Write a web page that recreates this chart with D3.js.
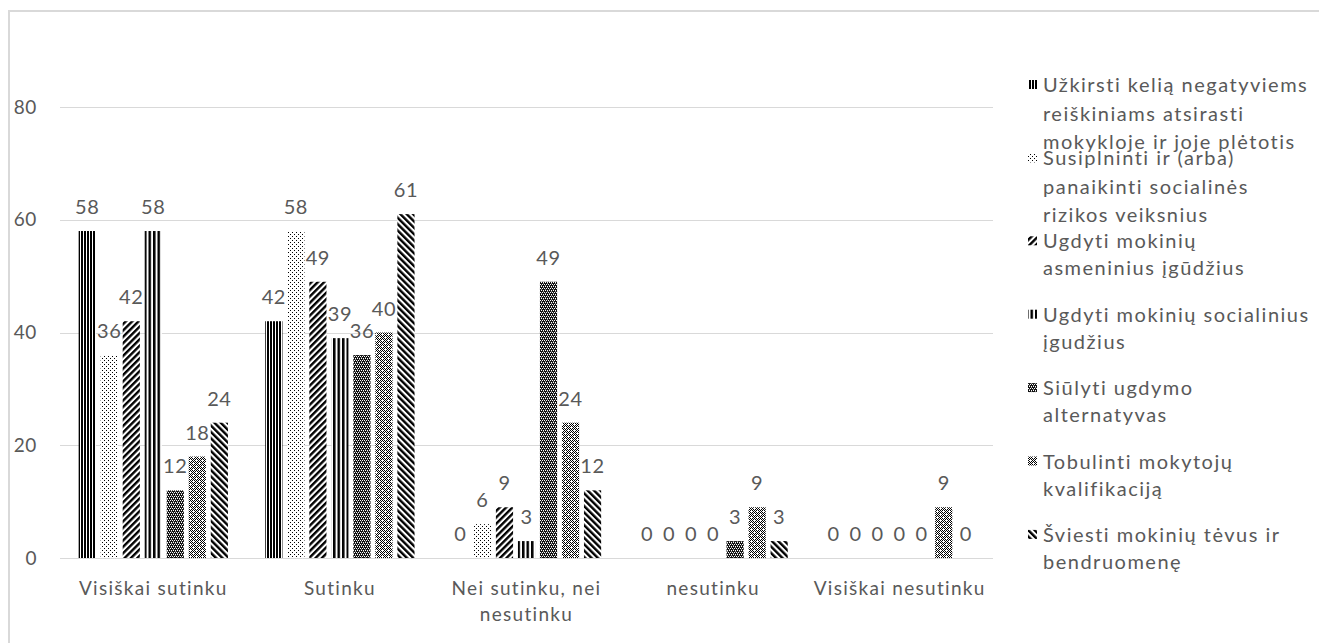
<!DOCTYPE html>
<html><head><meta charset="utf-8">
<script src="https://cdn.jsdelivr.net/npm/d3@7"></script>
<style>
html,body{margin:0;padding:0;background:#fff;}
svg text{font-family:Lato,"Noto Sans",sans-serif;fill:#595959;}
</style></head>
<body><svg id="c" width="1319" height="643"></svg>
<script>
const categories = [["Visiškai sutinku"],["Sutinku"],["Nei sutinku, nei","nesutinku"],["nesutinku"],["Visiškai nesutinku"]];
const seriesNames = [
 ["Užkirsti kelią negatyviems","reiškiniams atsirasti","mokykloje ir joje plėtotis"],
 ["Susiplninti ir (arba)","panaikinti socialinės","rizikos veiksnius"],
 ["Ugdyti mokinių","asmeninius įgūdžius"],
 ["Ugdyti mokinių socialinius","įgudžius"],
 ["Siūlyti ugdymo","alternatyvas"],
 ["Tobulinti mokytojų","kvalifikaciją"],
 ["Šviesti mokinių tėvus ir","bendruomenę"]
];
const s1 = [58,42,0,0,0];
const s2 = [36,58,6,0,0];
const s3 = [42,49,9,0,0];
const s4 = [58,39,3,0,0];
const s5 = [12,36,49,3,0];
const s6 = [18,40,24,9,9];
const s7 = [24,61,12,3,0];
const seriesValues = [s1,s2,s3,s4,s5,s6,s7];
const yTicks = [0,20,40,60,80];

const svg = d3.select("#c");
const defs = svg.append("defs");

function pat(id, w, h, draw, transform){
  const p = defs.append("pattern").attr("id",id).attr("patternUnits","userSpaceOnUse")
    .attr("width",w).attr("height",h);
  if(transform) p.attr("patternTransform",transform);
  p.append("rect").attr("width",w).attr("height",h).attr("fill","#fff");
  draw(p);
}
function px(p,x,y,c,w,h){p.append("rect").attr("x",x).attr("y",y).attr("width",w||1).attr("height",h||1).attr("fill",c);}
pat("p0",3,3,p=>px(p,0,0,"#000",2,3));
pat("p1",4,4,p=>{px(p,0,0,"#000");px(p,2,2,"#000");});
pat("p2",4.5,4.5,p=>px(p,0,0,"#000",2.4,4.5),"rotate(45)");
pat("p3",4.5,4,p=>px(p,0,0,"#000",2.5,4));
pat("p4",4,4,p=>{
  px(p,0,0,"#111",4,4);
  px(p,0,0,"#fff");px(p,2,0,"#fff");px(p,1,2,"#fff");px(p,3,2,"#fff");px(p,1,1,"#888");px(p,3,3,"#888");
});
pat("p5",6,6,p=>{
  for(let i=0;i<6;i++)for(let j=0;j<6;j++){ if((i+j)%2===0) px(p,i,j,"#000"); }
  px(p,1,1,"#fff",2,1);px(p,4,4,"#fff",2,1);
});
pat("p6",4.5,4.5,p=>px(p,0,0,"#000",2.4,4.5),"rotate(-45)");

svg.append("rect").attr("x",9).attr("y",11).attr("width",1400).attr("height",700)
  .attr("fill","none").attr("stroke","#d9d9d9").attr("stroke-width",2);

const left = 60, right = 993;
const y = d3.scaleLinear().domain([0,80]).range([558,107]);
const x0 = d3.scaleBand().domain(d3.range(categories.length)).range([left,right]).paddingInner(0.2).paddingOuter(0.1);
const x1 = d3.scaleBand().domain(d3.range(seriesValues.length)).range([0,x0.bandwidth()]).paddingInner(0.22);

svg.append("g").selectAll("line").data(yTicks).join("line")
  .attr("x1",left).attr("x2",right).attr("y1",d=>Math.round(y(d))+0.5).attr("y2",d=>Math.round(y(d))+0.5)
  .attr("stroke","#d9d9d9").attr("stroke-width",1);
svg.append("g").selectAll("text").data(yTicks).join("text")
  .attr("x",37).attr("y",d=>y(d)).attr("dy","0.35em").attr("text-anchor","end")
  .attr("font-size",19).attr("letter-spacing",0.6).text(d=>d);

const g = svg.append("g");
seriesValues.forEach((vals,si)=>{
  const sg = g.append("g");
  sg.selectAll("rect").data(vals).join("rect")
    .attr("x",(d,ci)=>x0(ci)+x1(si)).attr("width",x1.bandwidth())
    .attr("y",d=>y(d)).attr("height",d=>y(0)-y(d))
    .attr("fill",`url(#p${si})`);
  sg.selectAll("text").data(vals).join("text")
    .attr("x",(d,ci)=>x0(ci)+x1(si)+x1.bandwidth()/2).attr("y",d=>y(d)-17)
    .attr("text-anchor","middle").attr("font-size",20).attr("letter-spacing",0.6).text(d=>d);
});

const cl = svg.append("g");
categories.forEach((lines,ci)=>{
  const cx = x0(ci)+x0.bandwidth()/2;
  const t = cl.append("text").attr("text-anchor","middle").attr("font-size",19).attr("letter-spacing",1.3)
    .attr("x",cx).attr("y",595);
  lines.forEach((ln,li)=>t.append("tspan").attr("x",cx).attr("dy",li?26:0).text(ln));
});

const lg = svg.append("g");
const itemStep = 73.4, firstCenter = 108;
seriesNames.forEach((lines,si)=>{
  const c = firstCenter + si*itemStep;
  const lineH = lines.length>2 ? 28.5 : 27;
  const top = lines.length>2 ? c-23 : c-13.5;
  lg.append("rect").attr("x",1028).attr("y",top-5).attr("width",9).attr("height",9).attr("fill",`url(#p${si})`);
  const t = lg.append("text").attr("x",1043).attr("y",top).attr("font-size",20).attr("letter-spacing",1.5);
  lines.forEach((ln,li)=>t.append("tspan").attr("x",1043).attr("dy",li?lineH:"0.35em").text(ln));
});
</script></body></html>
